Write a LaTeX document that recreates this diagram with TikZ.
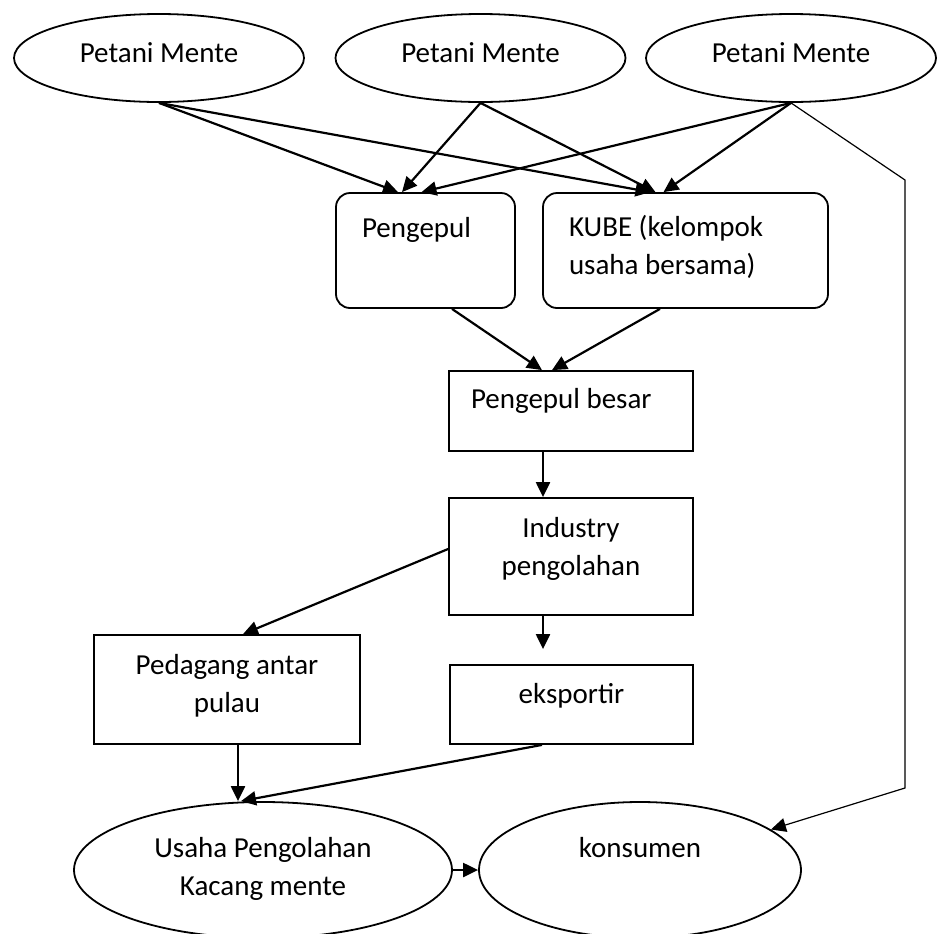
\documentclass[tikz,border=0pt]{standalone}
\usepackage{fontspec}
\setmainfont{Carlito}
\usetikzlibrary{shapes.geometric,arrows.meta}

\begin{document}
\begin{tikzpicture}[x=0.5pt,y=-0.5pt,
  every node/.style={font=\fontsize{14.5pt}{19.2pt}\selectfont,text height=10pt,inner sep=0pt},
  petani/.style={ellipse,draw,line width=0.9pt,minimum width=145pt,minimum height=44pt,text depth=6pt},
  kotak/.style={rectangle,draw,line width=0.9pt},
  bulat/.style={kotak,rounded corners=7pt},
  duabaris/.style={text height=29.2pt},
  panah/.style={-{Triangle[length=7.5pt,width=7pt]},line width=1.1pt},
  tipis/.style={-{Triangle[length=7.5pt,width=7pt]},line width=0.6pt}]
\useasboundingbox (0,0) rectangle (938,933);

%petani mente
\node[petani] (p1) at (159,58) {Petani Mente};
\node[petani] (p2) at (480.5,58) {Petani Mente};
\node[petani] (p3) at (791,58) {Petani Mente};

%pengepul dan KUBE
\node[bulat,minimum width=89.5pt,minimum height=57.5pt,inner xsep=13pt,text width=63.5pt,align=left,text depth=23.5pt] (peng) at (425.5,250.5) {\spaceskip=0pt\relax Pengepul};
\node[bulat,minimum width=142.5pt,minimum height=57.5pt,inner xsep=13pt,text width=116.5pt,align=left,text depth=24.5pt] (kube) at (685.5,250.5) {\spaceskip=0pt\relax KUBE (kelompok\\usaha bersama)};

%pengepul besar
\node[kotak,minimum width=122pt,minimum height=40pt,inner xsep=11pt,text width=100pt,align=left,text depth=13pt] (pb) at (571,411) {\spaceskip=0pt\relax Pengepul besar};

%industry
\node[kotak,duabaris,minimum width=122pt,minimum height=58.5pt,align=center,text depth=10.3pt] (ind) at (571,556.5) {Industry\\pengolahan};

%pedagang dan eksportir
\node[kotak,duabaris,minimum width=133pt,minimum height=54.5pt,align=center,text depth=6.3pt] (ped) at (227,689.5) {Pedagang antar\\pulau};
\node[kotak,minimum width=121.5pt,minimum height=39.5pt,text depth=11.5pt] (eks) at (571.5,704.5) {eksportir};

%usaha pengolahan dan konsumen
\node[ellipse,draw,duabaris,line width=0.9pt,minimum width=189pt,minimum height=68pt,align=center,text depth=3.8pt] (usaha) at (263,870) {Usaha Pengolahan\\Kacang mente};
\node[ellipse,draw,line width=0.9pt,minimum width=161pt,minimum height=68pt,text depth=23pt] (kons) at (640,870) {konsumen};

%petani ke pengepul dan KUBE
\draw[panah] (p1.south) -- ([xshift=-13.75pt]peng.north);
\draw[panah] (p1.south) -- ([xshift=-17.5pt]kube.north);
\draw[panah] (p2.south) -- ([xshift=-11.75pt]peng.north);
\draw[panah] (p2.south) -- ([xshift=-15pt]kube.north);
\draw[panah] (p3.south) -- ([xshift=-2pt]peng.north);
\draw[panah] (p3.south) -- ([xshift=-11pt]kube.north);

%petani langsung ke konsumen
\coordinate (belok1) at (905,180);
\coordinate (belok2) at (905,788);
\draw[tipis] (p3.south) -- (belok1) -- (belok2) -- (kons);

%ke pengepul besar
\draw[panah] ([xshift=13.25pt]peng.south) -- ([xshift=-14.5pt]pb.north);
\draw[panah] ([xshift=-12.75pt]kube.south) -- ([xshift=-9.5pt]pb.north);
\draw[panah] ([xshift=-14pt]pb.south) -- ([xshift=-14pt]ind.north);

%dari industry
\draw[panah] ([yshift=3.75pt]ind.west) -- ([xshift=8pt]ped.north);
\draw[panah,shorten >=7.5pt] ([xshift=-14pt]ind.south) -- ([xshift=-14.25pt]eks.north);

%ke usaha pengolahan
\draw[panah] ([xshift=5.5pt]ped.south) -- ([xshift=-12.5pt]usaha.north);
\draw[panah] ([xshift=-14.75pt]eks.south) -- ([xshift=-11pt]usaha.north);
\draw[panah] (usaha.east) -- (kons.west);
\end{tikzpicture}
\end{document}
